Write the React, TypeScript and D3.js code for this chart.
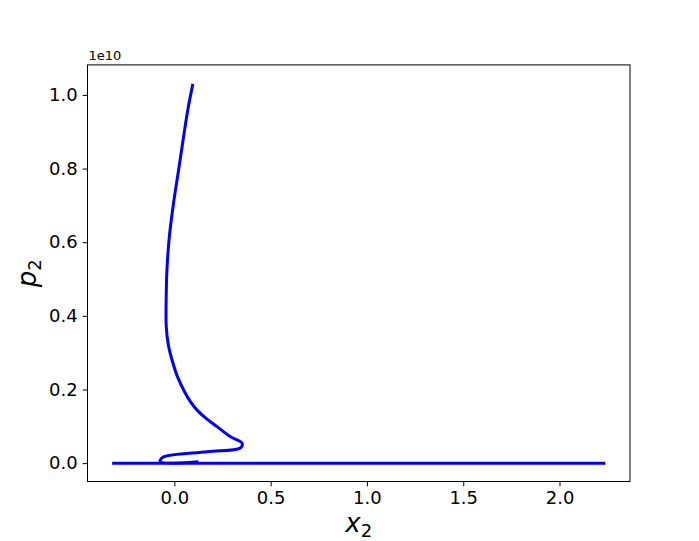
import React, { useEffect, useRef } from "react";
import * as d3 from "d3";

// values in units of 1e10 for p2
const loopX = [0.096, 0.07, 0.048, 0.022, -0.004, -0.026, -0.038, -0.042, -0.042, -0.031, -0.012, 0.016, 0.057, 0.086, 0.118, 0.168, 0.222, 0.29, 0.352, 0.343, 0.17, -0.056, -0.073, -0.073, 0.125];
const loopY = [1.03, 0.96, 0.887, 0.796, 0.707, 0.615, 0.53, 0.462, 0.37, 0.32, 0.28, 0.235, 0.19, 0.165, 0.144, 0.12, 0.099, 0.072, 0.054, 0.041, 0.031, 0.017, 0.008, 0.003, 0.004];
const baseX = [-0.323, 2.238];
const baseY = [0, 0];
const xTicks = [0, 0.5, 1.0, 1.5, 2.0];
const yTicks = [0, 0.2, 0.4, 0.6, 0.8, 1.0];

const WIDTH = 699;
const HEIGHT = 541;

export default function App() {
  const ref = useRef<SVGSVGElement>(null);

  useEffect(() => {
    const vis = d3.select(ref.current);
    vis.selectAll("*").remove();

    const M = { left: 87.5, right: 630, top: 64.9, bottom: 481.5 };
    const font = "DejaVu Sans, sans-serif";

    const x = d3.scaleLinear().domain([-0.451, 2.366]).range([M.left, M.right]);
    const y = d3.scaleLinear().domain([-0.0499, 1.0815]).range([M.bottom, M.top]);

    vis.append("rect").attr("width", WIDTH).attr("height", HEIGHT).attr("fill", "white");

    const line = d3.line<[number, number]>()
      .x(d => x(d[0]))
      .y(d => y(d[1]));

    // baseline
    const base: [number, number][] = baseX.map((v, i) => [v, baseY[i]]);
    vis.append("path")
      .attr("d", line(base))
      .attr("stroke", "#0000ff")
      .attr("stroke-width", 3)
      .attr("fill", "none");

    // loop branch
    const loop: [number, number][] = loopX.map((v, i) => [v, loopY[i]]);
    vis.append("path")
      .attr("d", line.curve(d3.curveCatmullRom.alpha(0.5))(loop))
      .attr("stroke", "#0000ff")
      .attr("stroke-width", 3)
      .attr("stroke-linejoin", "round")
      .attr("fill", "none");

    // axes
    const xAxis = d3.axisBottom(x).tickValues(xTicks).tickSize(4.9).tickPadding(4.9)
      .tickFormat(d => d3.format(".1f")(d as number));
    const gx = vis.append("g")
      .attr("transform", "translate(0," + M.bottom + ")")
      .call(xAxis);
    gx.select(".domain").remove();
    gx.selectAll("line").attr("stroke", "black").attr("stroke-width", 1);
    gx.selectAll("text").attr("font-family", font).attr("font-size", 18).attr("fill", "black");

    const yAxis = d3.axisLeft(y).tickValues(yTicks).tickSize(4.9).tickPadding(4.9)
      .tickFormat(d => d3.format(".1f")(d as number));
    const gy = vis.append("g")
      .attr("transform", "translate(" + M.left + ",0)")
      .call(yAxis);
    gy.select(".domain").remove();
    gy.selectAll("line").attr("stroke", "black").attr("stroke-width", 1);
    gy.selectAll("text").attr("font-family", font).attr("font-size", 18).attr("fill", "black");

    // frame
    vis.append("rect")
      .attr("x", M.left).attr("y", M.top)
      .attr("width", M.right - M.left).attr("height", M.bottom - M.top)
      .attr("fill", "none").attr("stroke", "black").attr("stroke-width", 1);

    // offset text
    vis.append("text")
      .attr("x", M.left + 1).attr("y", 60)
      .attr("font-family", font).attr("font-size", 13)
      .text("1e10");

    // axis labels
    const xl = vis.append("text")
      .attr("x", (M.left + M.right) / 2).attr("y", 532)
      .attr("text-anchor", "middle")
      .attr("font-family", font).attr("font-size", 26);
    xl.append("tspan").attr("font-style", "italic").text("x");
    xl.append("tspan").attr("font-size", 18).attr("dy", 5).text("2");

    const yl = vis.append("text")
      .attr("transform", "translate(36," + (M.top + M.bottom) / 2 + ") rotate(-90)")
      .attr("text-anchor", "middle")
      .attr("font-family", font).attr("font-size", 26);
    yl.append("tspan").attr("font-style", "italic").text("p");
    yl.append("tspan").attr("font-size", 18).attr("dy", 5).text("2");
  }, []);

  return (
    <div style={{ position: "absolute", left: 0, top: 0 }}>
      <svg ref={ref} width={WIDTH} height={HEIGHT}></svg>
    </div>
  );
}
